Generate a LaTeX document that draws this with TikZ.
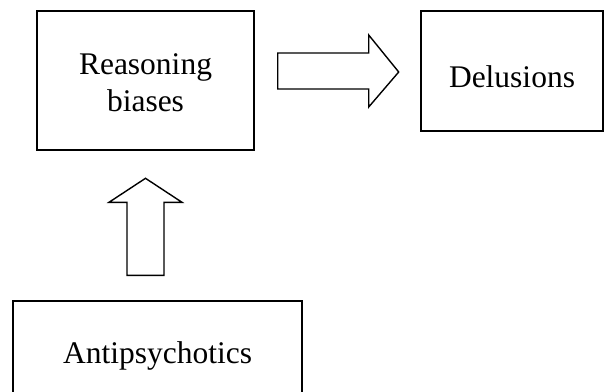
\documentclass[tikz,border=0pt]{standalone}
\usepackage{fontspec}
\setmainfont{Liberation Serif}
\begin{document}
\begin{tikzpicture}[x=1pt,y=-1pt,
  box/.style={draw=black, line width=1.4pt, inner sep=0pt, align=center,
    font=\fontsize{31.5}{37}\selectfont},
  fatarrow/.style={draw=black, line width=1.4pt, line join=miter, fill=white}]
  \useasboundingbox (0,0) rectangle (604,391);
  \clip (0,0) rectangle (604,391);
  % boxes
  \node[box, minimum width=217pt, minimum height=139pt, text height=63pt] (rb) at (145.5,80.5) {Reasoning\\biases};
  \node[box, minimum width=182pt, minimum height=120pt, text height=34pt] (del) at (512,71) {Delusions};
  \node[box, minimum width=289pt, minimum height=110pt] (anti) at (157.5,356) {Antipsychotics};
  % block arrows between the boxes
  \coordinate (r0) at ([xshift=23pt]rb.east |- del.center);
  \coordinate (u0) at ([yshift=25pt]anti.north -| rb.south);
  \draw[fatarrow] (r0) ++(0,-18) -- ++(91,0) -- ++(0,-18) -- ++(30,37) -- ++(-30,35) -- ++(0,-18) -- ++(-91,0) -- cycle;
  \draw[fatarrow] (u0) ++(-18.5,0) -- ++(0,-73) -- ++(-18,0) -- ++(36.5,-24) -- ++(36.5,24) -- ++(-18,0) -- ++(0,73) -- cycle;
\end{tikzpicture}
\end{document}
